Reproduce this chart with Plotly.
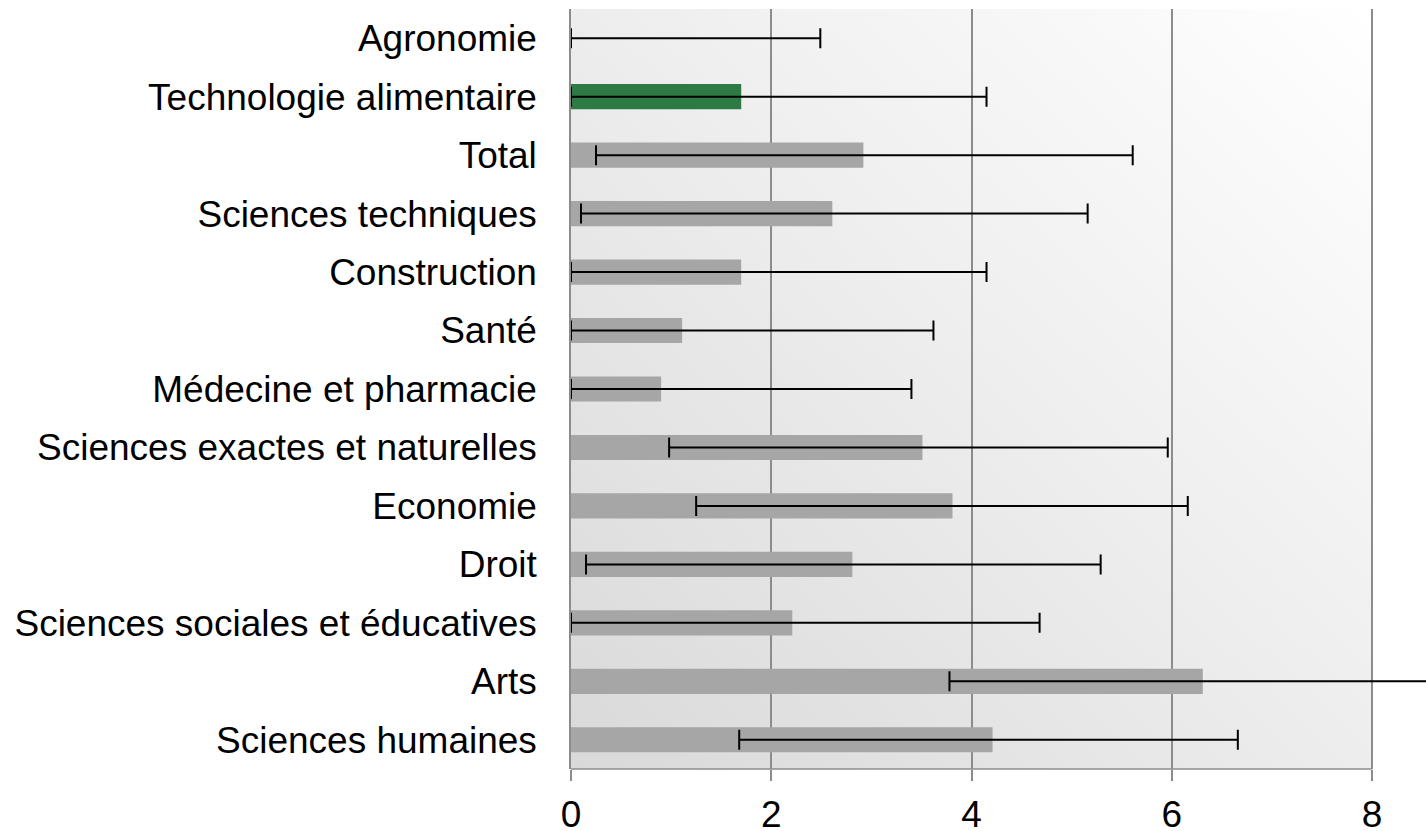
import base64
import plotly.graph_objects as go

# ---- data ----
categories = [
    "Agronomie",
    "Technologie alimentaire",
    "Total",
    "Sciences techniques",
    "Construction",
    "Santé",
    "Médecine et pharmacie",
    "Sciences exactes et naturelles",
    "Economie",
    "Droit",
    "Sciences sociales et éducatives",
    "Arts",
    "Sciences humaines",
]
values = [0, 1.7, 2.92, 2.61, 1.7, 1.11, 0.9, 3.51, 3.81, 2.81, 2.21, 6.31, 4.21]
upper = [2.49, 4.15, 5.61, 5.16, 4.15, 3.62, 3.40, 5.96, 6.16, 5.29, 4.68, 8.8, 6.66]
lower = [0, 0, 0.25, 0.10, 0, 0, 0, 0.98, 1.25, 0.15, 0, 3.78, 1.68]
highlight = "Technologie alimentaire"
x_ticks = [0, 2, 4, 6, 8]

# ---- styles / layout ----
GRAY_BAR = "#a6a6a6"
GREEN_BAR = "#2d7a45"
GRID = "#8c8c8c"
FONT = "Liberation Sans, Arial, sans-serif"
FSIZE = 37
W, H = 1426, 831
ML, MT, MB = 571, 9, 62
AXIS_END = 8            # the framed chart area ends at 8
PX_PER_UNIT = 801 / 8   # pixel scale of the reference
X_MAX = (W - ML) / PX_PER_UNIT  # plot continues to the page edge (error bar overflow)

err_plus = [u - v for u, v in zip(upper, values)]
err_minus = [v - l for v, l in zip(values, lower)]
colors = [GREEN_BAR if c == highlight else GRAY_BAR for c in categories]

svg = (
    '<svg xmlns="http://www.w3.org/2000/svg" width="100" height="100" '
    'viewBox="0 0 100 100" preserveAspectRatio="none">'
    '<defs><linearGradient id="g" x1="0" y1="1" x2="1" y2="0">'
    '<stop offset="0" stop-color="#d9d9d9"/>'
    '<stop offset="0.55" stop-color="#efefef"/>'
    '<stop offset="1" stop-color="#ffffff"/>'
    '</linearGradient></defs>'
    '<rect x="0" y="0" width="100" height="100" fill="url(#g)"/></svg>'
)
svg_uri = "data:image/svg+xml;base64," + base64.b64encode(svg.encode()).decode()

fig = go.Figure()
fig.add_trace(
    go.Bar(
        y=categories,
        x=values,
        orientation="h",
        marker=dict(color=colors, line=dict(width=0)),
        error_x=dict(
            type="data",
            symmetric=False,
            array=err_plus,
            arrayminus=err_minus,
            color="black",
            thickness=2,
            width=10,
        ),
        hoverinfo="x+y",
    )
)

fig.update_layout(
    width=W,
    height=H,
    margin=dict(l=ML, r=0, t=MT, b=MB, autoexpand=False),
    paper_bgcolor="white",
    plot_bgcolor="rgba(0,0,0,0)",
    bargap=0.57,
    showlegend=False,
    font=dict(family=FONT, size=FSIZE, color="black"),
    images=[
        dict(
            source=svg_uri,
            xref="x",
            yref="paper",
            x=0,
            y=1,
            sizex=AXIS_END,
            sizey=1,
            sizing="stretch",
            xanchor="left",
            yanchor="top",
            layer="below",
        )
    ],
    shapes=[
        dict(
            type="line",
            xref="x",
            yref="paper",
            x0=0,
            x1=AXIS_END,
            y0=0,
            y1=0,
            line=dict(color=GRID, width=1.5),
            layer="above",
        )
    ],
    xaxis=dict(
        range=[0, X_MAX],
        tickvals=x_ticks,
        ticktext=[str(t) for t in x_ticks],
        showgrid=True,
        gridcolor=GRID,
        gridwidth=1.5,
        zeroline=False,
        showline=False,
        ticks="outside",
        ticklen=11,
        tickwidth=1.5,
        tickcolor=GRID,
        ticklabelstandoff=2,
        automargin=False,
        tickfont=dict(family=FONT, size=FSIZE, color="black"),
        fixedrange=True,
    ),
    yaxis=dict(
        categoryorder="array",
        categoryarray=categories,
        range=[len(categories) - 0.5, -0.5],
        showgrid=False,
        zeroline=False,
        showline=True,
        linecolor=GRID,
        linewidth=1.5,
        ticks="",
        ticklabelstandoff=25,
        automargin=False,
        tickfont=dict(family=FONT, size=FSIZE, color="black"),
        fixedrange=True,
    ),
)

fig.write_html(
    "out.html",
    config={"displayModeBar": False},
    post_script="document.body.style.margin='0';document.body.style.overflow='hidden';",
)
